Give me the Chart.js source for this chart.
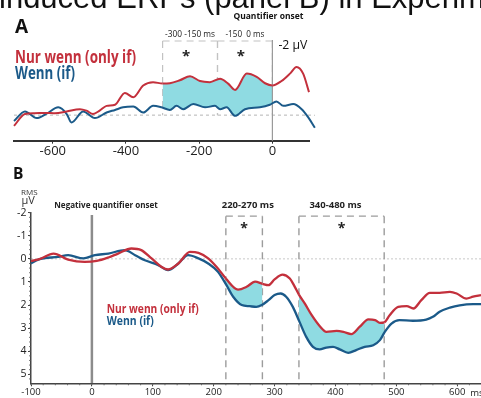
<!DOCTYPE html>
<html><head><meta charset="utf-8">
<script src="https://cdn.jsdelivr.net/npm/chart.js@4/dist/chart.umd.min.js"></script>
<style>
html,body{margin:0;padding:0;background:#fff;width:481px;height:398px;overflow:hidden}
#ca{position:absolute;left:0;top:0;width:481px;height:160px}
#cb{position:absolute;left:0;top:160px;width:481px;height:238px}
</style></head><body>
<canvas id="ca" width="481" height="160"></canvas>
<canvas id="cb" width="481" height="238"></canvas>
<script>
// ---------- Panel A data ----------
const timesRedA = [-706,-676,-650,-617,-594,-562,-526,-508,-490,-472,-453,-430,-403,-380,-353,-326,-300,-280,-253,-225,-198,-171,-143,-121,-102,-70,-43,-20,0,25,48,66,84,100];
const redA = [0.29,-0.03,-0.05,-0.06,-0.05,-0.10,-0.16,-0.12,-0.03,-0.12,-0.25,-0.28,-0.60,-0.48,-0.80,-0.89,-0.85,-0.86,-0.94,-1.05,-0.92,-0.89,-0.98,-0.85,-0.68,-1.12,-1.03,-0.86,-0.80,-0.92,-1.12,-1.30,-1.12,-0.62];
const timesBlueA = [-706,-676,-644,-617,-585,-562,-549,-517,-485,-453,-430,-408,-380,-353,-326,-303,-280,-262,-244,-216,-184,-157,-143,-125,-102,-75,-34,-7,11,30,57,80,98,116];
const blueA = [0.16,-0.10,0.08,-0.04,-0.21,-0.03,0.20,-0.10,0.08,-0.07,-0.14,-0.21,-0.23,-0.07,-0.25,-0.21,-0.14,-0.25,-0.16,-0.30,-0.21,-0.25,-0.16,-0.21,0.02,-0.16,-0.21,-0.28,-0.37,-0.25,-0.30,-0.16,0.06,0.34];
const ticksA = [-600,-400,-200,0];
const sigA = [[-300,-150],[-150,0]];
const sigLabelsA = ['-300 -150 ms','-150  0 ms'];

// ---------- Panel B data ----------
const timesRedB = [-100,-85,-63,-39,-12,8,27,43,65,81,98,114,125,142,161,175,191,207,220,240,254,268,280,290,300,313,325,333,340,350,361,375,385,402,413,426,440,454,465,473,480,489,503,517,528,541,555,571,588,599,615,626,639];
const redB = [0.10,0.00,-0.23,0.03,0.13,0.09,-0.06,-0.23,-0.45,-0.38,-0.02,0.34,0.46,0.20,-0.30,-0.26,-0.02,0.42,0.85,1.33,1.21,0.99,1.08,1.14,0.89,0.68,0.85,1.20,1.55,1.95,2.44,2.94,3.16,3.12,3.16,3.26,2.94,2.62,2.65,2.77,2.75,2.44,2.08,2.05,2.15,1.79,1.47,1.47,1.43,1.50,1.72,1.64,1.57];
const timesBlueB = [-100,-88,-55,-39,-14,5,27,54,71,87,109,125,142,158,175,191,207,221,232,246,259,270,279,290,300,310,319,330,341,352,363,374,385,396,407,421,434,448,462,473,481,492,505,527,549,560,571,588,604,626,639];
const blueB = [0.20,0.03,-0.09,-0.16,-0.02,-0.16,-0.23,-0.38,-0.16,0.06,0.27,0.49,0.20,-0.16,-0.02,0.20,0.56,1.14,1.64,2.00,2.05,2.08,2.00,1.79,1.57,1.50,1.64,2.08,2.73,3.38,3.81,3.92,3.84,3.81,3.92,4.07,3.95,3.81,3.74,3.52,3.16,2.80,2.65,2.68,2.63,2.51,2.29,2.11,2.01,1.96,1.96];
const ticksBx = [-100,0,100,200,300,400,500,600];
const ticksBy = [-2,-1,0,1,2,3,4,5];
const sigB = [[220,280],[340,480]];
const sigLabelsB = ['220-270 ms','340-480 ms'];
const seriesNames = ['Nur wenn (only if)','Wenn (if)'];
const titleText = 'induced ERPs (panel B) in Experiment';

// ---------- styling ----------
const RED = '#c3303c', BLUE = '#1b5a89', CYAN = '#8fdbe2';
const FF = '"Open Sans", "DejaVu Sans", sans-serif';
Chart.defaults.font.family = FF;

function pts(t, v){ return t.map((x, i) => ({x: x, y: v[i]})); }
function inside(x, r){ return r.some(([a, b]) => x >= a - 0.01 && x <= b + 0.01); }
function segFill(r){ return c => (inside(c.p0.parsed.x, r) && inside(c.p1.parsed.x, r)) ? CYAN : undefined; }
function txt(ctx, s, x, y, font, color, align, maxW){
  ctx.font = font; ctx.fillStyle = color; ctx.textAlign = align || 'left'; ctx.textBaseline = 'alphabetic';
  if (maxW) ctx.fillText(s, x, y, maxW); else ctx.fillText(s, x, y);
}
function dline(ctx, x1, y1, x2, y2, color, w, dash){
  ctx.beginPath(); ctx.setLineDash(dash || []); ctx.strokeStyle = color; ctx.lineWidth = w;
  ctx.moveTo(x1, y1); ctx.lineTo(x2, y2); ctx.stroke(); ctx.setLineDash([]);
}

// ---------- Panel A ----------
const annA = {
  id: 'annA',
  beforeDraw(chart){
    const {ctx, scales: {x, y}} = chart;
    ctx.save();
    const y0 = y.getPixelForValue(0), yT = y.getPixelForValue(-2);
    dline(ctx, x.left, y0, x.getPixelForValue(timesBlueA[timesBlueA.length - 1]), y0, '#b5b5b5', 1, [3, 3]);
    sigA.forEach(([lo, hi]) => {
      const a = x.getPixelForValue(lo), b = x.getPixelForValue(hi);
      dline(ctx, a, yT, b, yT, '#c2c2c2', 1.2, [7, 5]);
      dline(ctx, a, yT, a, y0, '#c2c2c2', 1.2, [7, 5]);
      dline(ctx, b, yT, b, y0, '#c2c2c2', 1.2, [7, 5]);
    });
    ctx.restore();
  },
  beforeDatasetsDraw(chart){
    const {ctx, scales: {x, y}} = chart;
    ctx.save();
    const x0 = x.getPixelForValue(0);
    dline(ctx, x0, y.getPixelForValue(-2) - 1, x0, y.bottom, '#9a9a9a', 1.2);
    ctx.restore();
  },
  afterDraw(chart){
    const {ctx, scales: {x, y}} = chart;
    ctx.save();
    txt(ctx, titleText, -1, 8.3, '31px "Liberation Sans", Arial, sans-serif', '#111');
    txt(ctx, 'A', 15, 33, 'bold 19px ' + FF, '#111');
    const x0 = x.getPixelForValue(0);
    txt(ctx, 'Quantifier onset', x0 - 4, 18.5, 'bold 9px ' + FF, '#111', 'center', 70);
    sigA.forEach(([lo, hi], i) => {
      const c = (x.getPixelForValue(lo) + x.getPixelForValue(hi)) / 2;
      txt(ctx, sigLabelsA[i], c, 37, '8.5px ' + FF, '#222', 'center', i === 0 ? 50 : 39);
      txt(ctx, '*', c - 4, 61, 'bold 15px ' + FF, '#222', 'center');
    });
    txt(ctx, '-2 µV', x0 + 6, 49, '13px ' + FF, '#111', 'left', 29);
    txt(ctx, seriesNames[0], 15, 62.5, 'bold 17px ' + FF, RED, 'left', 121);
    txt(ctx, seriesNames[1], 15, 78.5, 'bold 17px ' + FF, BLUE, 'left', 60);
    ctx.restore();
  }
};

new Chart(document.getElementById('ca'), {
  type: 'line',
  data: { datasets: [
    { label: seriesNames[0], data: pts(timesRedA, redA), borderColor: RED, borderWidth: 2, pointRadius: 0,
      fill: '+1', backgroundColor: 'rgba(0,0,0,0)', segment: { backgroundColor: segFill(sigA) },
      cubicInterpolationMode: 'monotone', clip: false },
    { label: seriesNames[1], data: pts(timesBlueA, blueA), borderColor: BLUE, borderWidth: 2, pointRadius: 0,
      fill: false, cubicInterpolationMode: 'monotone', clip: false }
  ]},
  options: {
    responsive: false, animation: false, devicePixelRatio: 1,
    layout: { padding: { left: 14, right: 172, top: 41, bottom: 0 } },
    plugins: { legend: { display: false }, tooltip: { enabled: false }, filler: { drawTime: 'beforeDatasetsDraw' } },
    scales: {
      x: { type: 'linear', min: -706, max: 100,
        afterBuildTicks: s => { s.ticks = ticksA.map(v => ({value: v})); },
        afterFit: s => { s.height = 19.3; },
        grid: { display: true, drawOnChartArea: false, tickLength: 3, color: '#333', lineWidth: 1 },
        border: { display: true, color: '#333', width: 2 },
        ticks: { font: { size: 13, family: FF }, color: '#222', padding: 0, maxRotation: 0, autoSkip: false } },
      y: { type: 'linear', display: false, reverse: true, min: -2, max: 0.69 }
    }
  },
  plugins: [annA]
});

// ---------- Panel B ----------
const annB = {
  id: 'annB',
  beforeDraw(chart){
    const {ctx, scales: {x, y}, chartArea} = chart;
    ctx.save();
    const y0 = y.getPixelForValue(0);
    dline(ctx, chartArea.left, y0, chartArea.right, y0, '#c8c8c8', 1, [2, 2]);
    const yT = y.getPixelForValue(-1.85), yB = y.bottom;
    sigB.forEach(([lo, hi]) => {
      const a = x.getPixelForValue(lo), b = x.getPixelForValue(hi);
      dline(ctx, a, yT, b, yT, '#9c9c9c', 1.4, [7, 5]);
      dline(ctx, a, yT, a, yB, '#9c9c9c', 1.4, [7, 5]);
      dline(ctx, b, yT, b, yB, '#9c9c9c', 1.4, [7, 5]);
    });
    const x0 = x.getPixelForValue(0);
    dline(ctx, x0, y.getPixelForValue(-1.9), x0, yB, '#8c8c8c', 2.5);
    ctx.restore();
  },
  afterDraw(chart){
    const {ctx, scales: {x, y}} = chart;
    ctx.save();
    // minor ticks
    for (let v = -100; v <= 630; v += 20) {
      const px = x.getPixelForValue(v);
      dline(ctx, px, y.bottom, px, y.bottom + 2, '#555', 0.8);
    }
    for (let v = -2; v <= 5.3; v += 0.2) {
      const py = y.getPixelForValue(v);
      dline(ctx, x.left, py, x.left - 2, py, '#555', 0.8);
    }
    txt(ctx, 'B', 13, 18.5, 'bold 15.5px ' + FF, '#111');
    txt(ctx, 'RMS', 21, 35, '8px ' + FF, '#333', 'left', 18.5);
    txt(ctx, 'µV', 21.5, 43.5, '11px ' + FF, '#333', 'left', 15);
    txt(ctx, 'Negative quantifier onset', 54.3, 48, 'bold 9px ' + FF, '#222', 'left', 103.5);
    const labelAt = [256, 400];
    sigB.forEach(([lo, hi], i) => {
      const c = (x.getPixelForValue(lo) + x.getPixelForValue(hi)) / 2;
      txt(ctx, sigLabelsB[i], x.getPixelForValue(labelAt[i]), 48, 'bold 9.5px ' + FF, '#222', 'center', 55);
      txt(ctx, '*', c, 73, 'bold 14px ' + FF, '#222', 'center');
    });
    txt(ctx, seriesNames[0], 106.7, 152.5, 'bold 12.5px ' + FF, RED, 'left', 92);
    txt(ctx, seriesNames[1], 106.7, 165, 'bold 12.5px ' + FF, BLUE, 'left', 47);
    txt(ctx, 'ms', x.getPixelForValue(600) + 13, 235.5, '9.5px ' + FF, '#222', 'left');
    ctx.restore();
  }
};

new Chart(document.getElementById('cb'), {
  type: 'line',
  data: { datasets: [
    { label: seriesNames[0], data: pts(timesRedB, redB), borderColor: RED, borderWidth: 2.3, pointRadius: 0,
      fill: '+1', backgroundColor: 'rgba(0,0,0,0)', segment: { backgroundColor: segFill(sigB) },
      cubicInterpolationMode: 'monotone' },
    { label: seriesNames[1], data: pts(timesBlueB, blueB), borderColor: BLUE, borderWidth: 2.3, pointRadius: 0,
      fill: false, cubicInterpolationMode: 'monotone' }
  ]},
  options: {
    responsive: false, animation: false, devicePixelRatio: 1,
    layout: { padding: { left: 0, right: 0, top: 52.7, bottom: 0 } },
    plugins: { legend: { display: false }, tooltip: { enabled: false }, filler: { drawTime: 'beforeDatasetsDraw' } },
    scales: {
      x: { type: 'linear', min: -100, max: 639,
        afterBuildTicks: s => { s.ticks = ticksBx.map(v => ({value: v})); },
        afterFit: s => { s.height = 14.7; },
        grid: { display: true, drawOnChartArea: false, tickLength: 3, color: '#444', lineWidth: 1 },
        border: { display: true, color: '#444', width: 1.5 },
        ticks: { font: { size: 9.5, family: FF }, color: '#222', padding: 0, maxRotation: 0, autoSkip: false } },
      y: { type: 'linear', reverse: true, min: -2, max: 5.39,
        afterBuildTicks: s => { s.ticks = ticksBy.map(v => ({value: v})); },
        afterFit: s => { s.width = 31; },
        grid: { display: true, drawOnChartArea: false, tickLength: 3, color: '#444', lineWidth: 1 },
        border: { display: true, color: '#444', width: 1.5 },
        ticks: { font: { size: 10.5, family: FF }, color: '#222', padding: 1.5 } }
    }
  },
  plugins: [annB]
});
</script>
</body></html>
